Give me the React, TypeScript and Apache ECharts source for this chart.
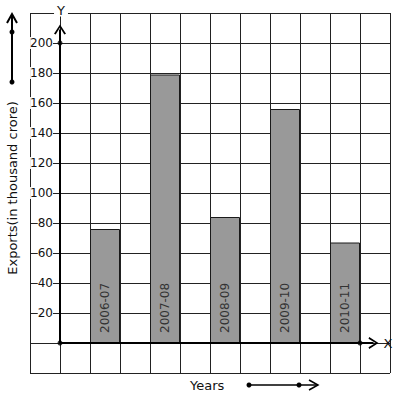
import React, { useEffect, useRef } from "react";
import * as echarts from "echarts";

const years = ["2006-07", "2007-08", "2008-09", "2009-10", "2010-11"];
const exportsValues = [76, 179, 84, 156, 67];
const yTicks = [20, 40, 60, 80, 100, 120, 140, 160, 180, 200];
// grid column index (centre) of each bar on the square graph paper
const barSlots = [2.5, 4.5, 6.5, 8.5, 10.5];

const FONT = "DejaVu Sans";
const chevron = "path://M0,10 L5,0 L10,10 L8.6,10.8 L5,3.2 L1.4,10.8 Z";

export default function App() {
  const ref = useRef<HTMLDivElement>(null);
  useEffect(() => {
    if (!ref.current) return;
    const chart = echarts.init(ref.current, null, { renderer: "svg" });
    const option: any = {
      animation: false,
      backgroundColor: "#fff",
      grid: { left: 30, right: 7, top: 13, bottom: 26, containLabel: false },
      xAxis: {
        type: "value",
        min: 0,
        max: 12,
        interval: 1,
        axisLine: { show: false },
        axisTick: { show: false },
        axisLabel: { show: false },
        splitLine: { show: true, showMinLine: true, showMaxLine: true, lineStyle: { color: "#222", width: 1 } },
      },
      yAxis: {
        type: "value",
        min: -20,
        max: 220,
        interval: 20,
        offset: -30,
        axisLine: { show: false },
        axisTick: { show: false },
        splitLine: { show: true, showMinLine: true, showMaxLine: true, lineStyle: { color: "#222", width: 1 } },
        axisLabel: {
          margin: 7,
          fontFamily: FONT,
          fontSize: 12,
          color: "#111",
          backgroundColor: "#fff",
          formatter: (v: number) => (yTicks.indexOf(v) >= 0 ? String(v) : ""),
        },
      },
      series: [
        {
          type: "bar",
          barWidth: 30,
          itemStyle: { color: "#999999", borderColor: "#1a1a1a", borderWidth: 1 },
          label: {
            show: true,
            position: "insideBottom",
            rotate: 90,
            align: "left",
            verticalAlign: "middle",
            distance: 10,
            formatter: "{b}",
            fontFamily: FONT,
            fontSize: 12,
            color: "#333",
          },
          data: years.map((y, i) => ({ name: y, value: [barSlots[i], exportsValues[i]] })),
          z: 3,
        },
        {
          type: "scatter",
          symbol: "circle",
          symbolSize: 5,
          itemStyle: { color: "#000" },
          data: [[1, 0], [1, 200], [11, 0]],
          z: 5,
          markLine: {
            silent: true,
            label: { show: false },
            lineStyle: { color: "#000", width: 2, type: "solid" },
            symbol: ["none", chevron],
            symbolSize: [12, 10],
            data: [
              [{ coord: [1, 0] }, { coord: [1, 209] }],
              [{ coord: [1, 0] }, { coord: [11.45, 0] }],
            ],
            z: 4,
          },
        },
      ],
      graphic: [
        { type: "text", x: 61, y: 10, style: { text: "Y", font: `13px '${FONT}'`, fill: "#111", align: "center", verticalAlign: "middle", backgroundColor: "#fff", padding: [0, 3] }, z: 10 },
        { type: "text", x: 388, y: 343, style: { text: "X", font: `13px '${FONT}'`, fill: "#111", align: "center", verticalAlign: "middle" }, z: 10 },
        { type: "text", x: 12, y: 188, rotation: Math.PI / 2, style: { text: "Exports(in thousand crore)", font: `13px '${FONT}'`, fill: "#111", align: "center", verticalAlign: "middle" }, z: 10 },
        { type: "text", x: 190, y: 385, style: { text: "Years", font: `13px '${FONT}'`, fill: "#111", align: "left", verticalAlign: "middle" }, z: 10 },
        // left decorative arrow
        { type: "line", shape: { x1: 12, y1: 82, x2: 12, y2: 14 }, style: { stroke: "#000", lineWidth: 2 }, z: 10 },
        { type: "polyline", shape: { points: [[7, 23], [12, 14], [17, 23]] }, style: { stroke: "#000", lineWidth: 2, fill: "none" }, z: 10 },
        { type: "circle", shape: { cx: 12, cy: 82, r: 2.5 }, style: { fill: "#000" }, z: 10 },
        { type: "circle", shape: { cx: 12, cy: 32, r: 2.5 }, style: { fill: "#000" }, z: 10 },
        // bottom decorative arrow
        { type: "line", shape: { x1: 249, y1: 385, x2: 318, y2: 385 }, style: { stroke: "#000", lineWidth: 1.5 }, z: 10 },
        { type: "polyline", shape: { points: [[309, 380], [318, 385], [309, 390]] }, style: { stroke: "#000", lineWidth: 1.5, fill: "none" }, z: 10 },
        { type: "circle", shape: { cx: 249, cy: 385, r: 2.5 }, style: { fill: "#000" }, z: 10 },
        { type: "circle", shape: { cx: 299, cy: 385, r: 2.5 }, style: { fill: "#000" }, z: 10 },
      ],
    };
    chart.setOption(option);
    return () => chart.dispose();
  }, []);
  return <div ref={ref} style={{ width: 397, height: 399, position: "absolute", left: 0, top: 0 }} />;
}
